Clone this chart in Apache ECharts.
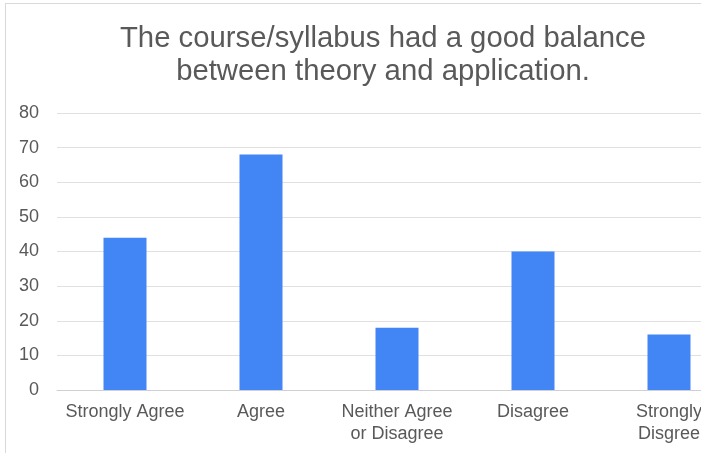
<!DOCTYPE html>
<html><head><meta charset="utf-8">
<script src="https://cdn.jsdelivr.net/npm/echarts@6/dist/echarts.min.js"></script>
<style>
html,body{margin:0;padding:0;background:#fff;overflow:hidden;width:711px;height:453px;}
#wrap{position:absolute;left:5px;top:3px;width:695px;height:460px;overflow:hidden;border-left:1px solid #d9d9d9;border-top:1px solid #d9d9d9;}
#c{position:absolute;left:0;top:0;width:754px;height:450px;}
</style></head><body>
<div id="wrap"><div id="c"></div></div>
<script>
const categories = ['Strongly Agree','Agree','Neither Agree\nor Disagree','Disagree','Strongly\nDisgree'];
const values = [44, 68, 18, 40, 16];
const yTicks = {min:0, max:80, interval:10};
const titleText = 'The course/syllabus had a good balance\nbetween theory and application.';

const chart = echarts.init(document.getElementById('c'), null, {renderer:'canvas'});
chart.setOption({
  animation:false,
  title:{text:titleText, left:'center', top:13,
    textStyle:{fontFamily:'Liberation Sans, Arial', fontSize:29.3, fontWeight:'normal', color:'#595959', lineHeight:33}},
  grid:{left:51, right:23, top:109, bottom:64, containLabel:false},
  xAxis:{type:'category', data:categories,
    axisLine:{show:true, lineStyle:{color:'#d0d0d0'}}, axisTick:{show:false},
    axisLabel:{fontFamily:'Liberation Sans, Arial', fontSize:18, color:'#595959', margin:11, lineHeight:22, interval:0}},
  yAxis:{type:'value', min:yTicks.min, max:yTicks.max, interval:yTicks.interval,
    axisLine:{show:false}, axisTick:{show:false},
    splitLine:{lineStyle:{color:'#e0e0e0'}},
    axisLabel:{fontFamily:'Liberation Sans, Arial', fontSize:18, color:'#595959', margin:18}},
  series:[{type:'bar', data:values, barWidth:43, itemStyle:{color:'#4285f4'}}]
});
</script></body></html>
